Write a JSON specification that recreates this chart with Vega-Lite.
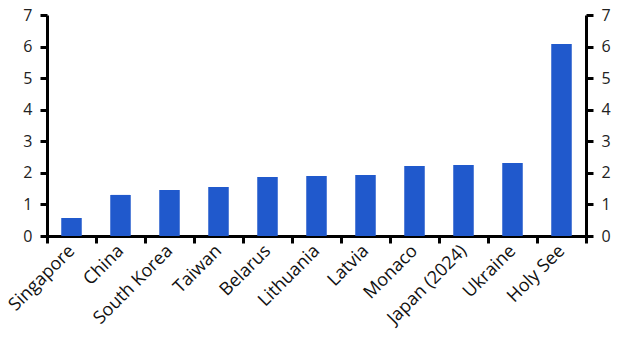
{
  "$schema": "https://vega.github.io/schema/vega-lite/v6.json",
  "autosize": {"type": "none"},
  "width": 539,
  "height": 221,
  "padding": {"left": 47, "top": 15, "right": 42, "bottom": 124},
  "background": "white",
  "config": {
    "view": {"stroke": null},
    "font": "Open Sans",
    "axis": {
      "grid": false,
      "domainColor": "black",
      "domainWidth": 3,
      "tickColor": "black",
      "tickWidth": 3,
      "tickSize": 7,
      "labelFont": "Open Sans",
      "labelFontSize": 16,
      "labelColor": "#222222",
      "title": null
    }
  },
  "data": {
    "values": [
      {"country": "Singapore", "value": 0.57},
      {"country": "China", "value": 1.30},
      {"country": "South Korea", "value": 1.46},
      {"country": "Taiwan", "value": 1.55},
      {"country": "Belarus", "value": 1.87},
      {"country": "Lithuania", "value": 1.90},
      {"country": "Latvia", "value": 1.93},
      {"country": "Monaco", "value": 2.22},
      {"country": "Japan (2024)", "value": 2.25},
      {"country": "Ukraine", "value": 2.31},
      {"country": "Holy See", "value": 6.08}
    ]
  },
  "encoding": {
    "x": {
      "field": "country",
      "type": "nominal",
      "sort": null,
      "scale": {"paddingInner": 0, "paddingOuter": 0},
      "axis": {
        "labelAngle": -45,
        "labelAlign": "right",
        "labelBaseline": "middle",
        "labelPadding": 5,
        "labelFontSize": 18,
        "labelColor": "#111111",
        "tickBand": "extent",
        "domainWidth": 3
      }
    }
  },
  "layer": [
    {
      "mark": {"type": "bar", "color": "#2059CC", "width": 20},
      "encoding": {
        "y": {
          "field": "value",
          "type": "quantitative",
          "scale": {"domain": [0, 7], "nice": false},
          "axis": {"orient": "left", "values": [0, 1, 2, 3, 4, 5, 6, 7], "labelPadding": 8}
        }
      }
    },
    {
      "mark": {"type": "bar", "color": "#2059CC", "width": 20},
      "encoding": {
        "y": {
          "field": "value",
          "type": "quantitative",
          "scale": {"domain": [0, 7], "nice": false},
          "axis": {"orient": "right", "values": [0, 1, 2, 3, 4, 5, 6, 7], "labelPadding": 8}
        }
      }
    }
  ],
  "resolve": {"axis": {"y": "independent"}}
}
